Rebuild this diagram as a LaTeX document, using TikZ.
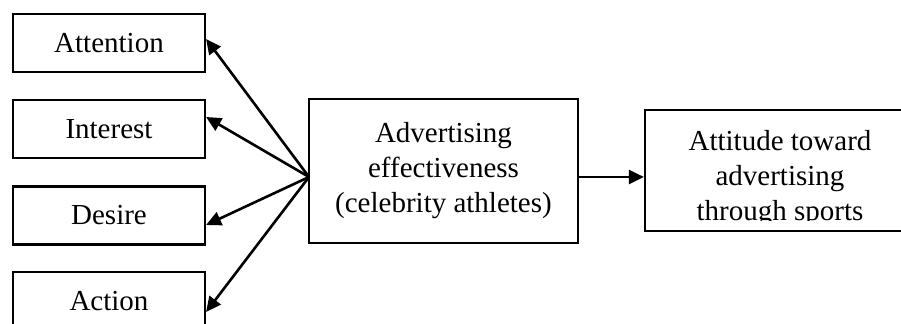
\documentclass[tikz,border=0pt]{standalone}
\usepackage{fontspec}
\setmainfont{Liberation Serif}
\usetikzlibrary{arrows.meta}

\begin{document}
\begin{tikzpicture}[x=0.5pt,y=0.5pt,yscale=-1,xscale=1,
  stage/.style={draw,line width=1.1pt,minimum width=96pt,minimum height=29pt,inner sep=0pt,font=\fontsize{14.5}{17.5}\selectfont},
  bigbox/.style={draw,line width=1.1pt,inner sep=0pt},
  boxtext/.style={align=center,inner sep=0pt,font=\fontsize{14.5}{17.5}\selectfont},
  link/.style={line width=1.3pt,-{Triangle[length=7.5pt,width=7pt]}}]
\useasboundingbox (0,0) rectangle (901,324);

% AIDA stages
\node [stage] (attention) at (109,43) {Attention};
\node [stage] (interest) at (109,129) {Interest};
\node [stage] (desire) at (109,215.5) {Desire};
\node [stage] (action) at (109,301) {Action};

% Advertising effectiveness
\node [bigbox,minimum width=134.5pt,minimum height=72pt] (advert) at (443.5,171) {};
\node [boxtext] (adverttext) at (443.5,171) {Advertising\\effectiveness\\(celebrity athletes)};
\coordinate (hub) at (309,177);

% Attitude (cut off at the right and bottom)
\node [bigbox,minimum width=135pt,minimum height=60.5pt] (attitude) at (780,170.5) {};
\begin{scope}
\clip (640,100) rectangle (920,221);
\node [boxtext] (attitudetext) at (780,179) {Attitude toward\\advertising\\through sports};
\end{scope}

% Arrows
\draw [link] (hub) -- ([yshift=-2pt]attention.east);
\draw [link] (hub) -- ([yshift=-6pt]interest.east);
\draw [link] (hub) -- ([yshift=4.75pt]desire.east);
\draw [link] (hub) -- ([yshift=5.5pt]action.east);
\draw [link] (advert.east |- hub) -- (attitude.west |- hub);

\end{tikzpicture}
\end{document}
